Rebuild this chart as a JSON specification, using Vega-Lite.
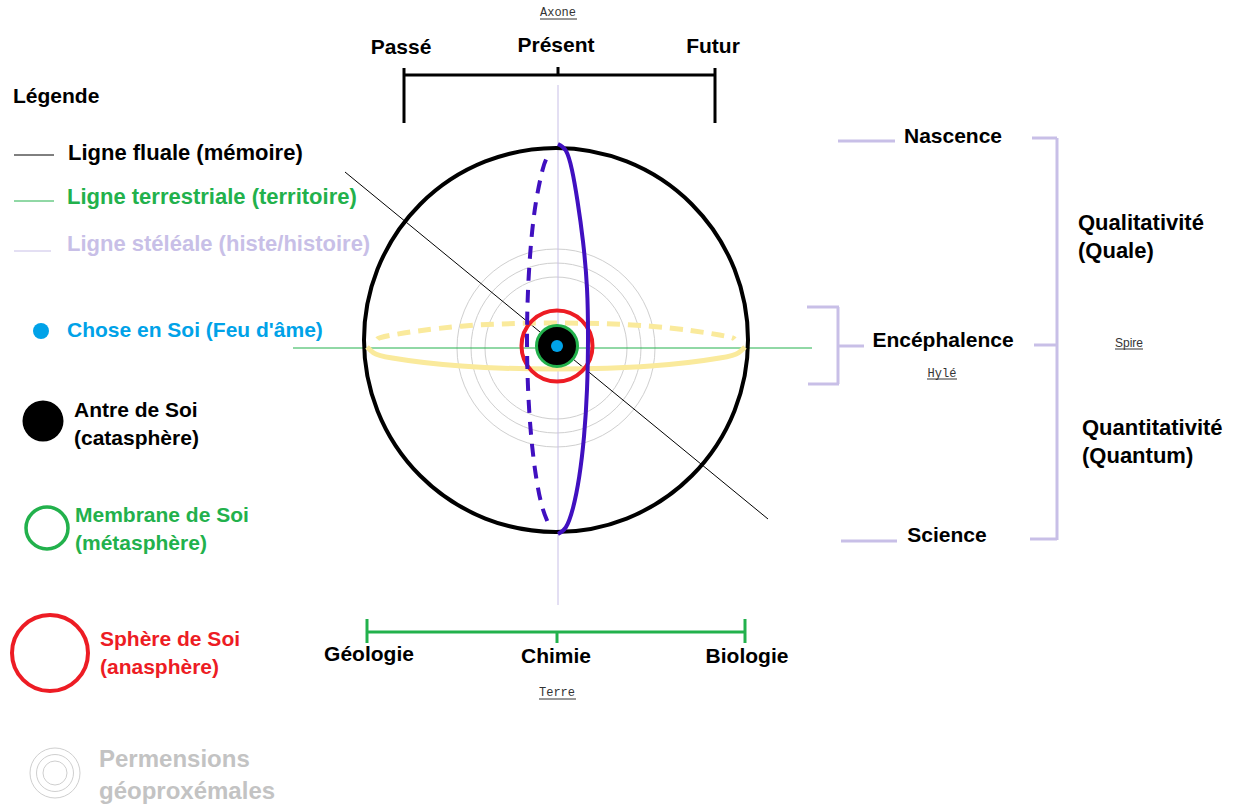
{
  "$schema": "https://vega.github.io/schema/vega-lite/v6.json",
  "width": 1236,
  "height": 807,
  "padding": 0,
  "autosize": {"type": "none"},
  "background": "white",
  "config": {"view": {"stroke": null}},
  "datasets": {
    "segs": [
      {"kind": "black3", "x": 404, "y": 75, "x2": 715, "y2": 75},
      {"kind": "black3", "x": 404, "y": 68, "x2": 404, "y2": 123},
      {"kind": "black3", "x": 715, "y": 68, "x2": 715, "y2": 123},
      {"kind": "black3", "x": 558, "y": 67, "x2": 558, "y2": 75},
      {"kind": "green3", "x": 367, "y": 632, "x2": 745, "y2": 632},
      {"kind": "green3", "x": 367, "y": 619, "x2": 367, "y2": 643},
      {"kind": "green3", "x": 745, "y": 619, "x2": 745, "y2": 643},
      {"kind": "green3", "x": 557, "y": 632, "x2": 557, "y2": 643},
      {"kind": "lav3", "x": 838, "y": 141, "x2": 895, "y2": 141},
      {"kind": "lav3", "x": 841, "y": 541, "x2": 897, "y2": 541},
      {"kind": "lav3", "x": 1032, "y": 138, "x2": 1057, "y2": 138},
      {"kind": "lav3", "x": 1057, "y": 138, "x2": 1057, "y2": 540},
      {"kind": "lav3", "x": 1030, "y": 539, "x2": 1057, "y2": 539},
      {"kind": "lav3", "x": 1034, "y": 345, "x2": 1057, "y2": 345},
      {"kind": "lav3", "x": 807, "y": 307, "x2": 839, "y2": 307},
      {"kind": "lav3", "x": 838, "y": 307, "x2": 838, "y2": 384},
      {"kind": "lav3", "x": 808, "y": 384, "x2": 839, "y2": 384},
      {"kind": "lav3", "x": 838, "y": 346, "x2": 864, "y2": 346},
      {"kind": "lav1", "x": 558, "y": 85, "x2": 558, "y2": 605},
      {"kind": "lav1", "x": 14, "y": 251, "x2": 51, "y2": 251},
      {"kind": "green1", "x": 293, "y": 348, "x2": 812, "y2": 348},
      {"kind": "green1", "x": 14, "y": 201, "x2": 54, "y2": 201},
      {"kind": "black1", "x": 345, "y": 172, "x2": 768, "y2": 519},
      {"kind": "black1", "x": 14, "y": 155, "x2": 54, "y2": 155},
      {"kind": "under", "x": 540, "y": 19, "x2": 577, "y2": 19},
      {"kind": "under", "x": 927, "y": 379, "x2": 957, "y2": 379},
      {"kind": "under", "x": 539, "y": 699, "x2": 576, "y2": 699},
      {"kind": "under", "x": 1115, "y": 349, "x2": 1143, "y2": 349}
    ],
    "curves": [
      {"curve": "purpleSolid", "i": 0, "x": 558, "y": 144},
      {"curve": "purpleSolid", "i": 1, "x": 565.8, "y": 150.6},
      {"curve": "purpleSolid", "i": 2, "x": 572, "y": 170.1},
      {"curve": "purpleSolid", "i": 3, "x": 577.5, "y": 201.1},
      {"curve": "purpleSolid", "i": 4, "x": 583, "y": 241.5},
      {"curve": "purpleSolid", "i": 5, "x": 587, "y": 288.5},
      {"curve": "purpleSolid", "i": 6, "x": 588, "y": 339},
      {"curve": "purpleSolid", "i": 7, "x": 587, "y": 389.5},
      {"curve": "purpleSolid", "i": 8, "x": 584, "y": 436.5},
      {"curve": "purpleSolid", "i": 9, "x": 579.2, "y": 476.9},
      {"curve": "purpleSolid", "i": 10, "x": 573, "y": 507.9},
      {"curve": "purpleSolid", "i": 11, "x": 565.8, "y": 527.4},
      {"curve": "purpleSolid", "i": 12, "x": 558, "y": 534},
      {"curve": "purpleDash", "i": 0, "x": 546, "y": 159.5},
      {"curve": "purpleDash", "i": 1, "x": 542.5, "y": 170.1},
      {"curve": "purpleDash", "i": 2, "x": 536.1, "y": 201.1},
      {"curve": "purpleDash", "i": 3, "x": 531.2, "y": 241.5},
      {"curve": "purpleDash", "i": 4, "x": 528.1, "y": 288.5},
      {"curve": "purpleDash", "i": 5, "x": 527, "y": 339},
      {"curve": "purpleDash", "i": 6, "x": 528.1, "y": 389.5},
      {"curve": "purpleDash", "i": 7, "x": 531.2, "y": 436.5},
      {"curve": "purpleDash", "i": 8, "x": 536.1, "y": 476.9},
      {"curve": "purpleDash", "i": 9, "x": 542.5, "y": 507.9},
      {"curve": "purpleDash", "i": 10, "x": 550, "y": 527},
      {"curve": "yellowSolid", "i": 0, "x": 367, "y": 347},
      {"curve": "yellowSolid", "i": 1, "x": 373.4, "y": 352.7},
      {"curve": "yellowSolid", "i": 2, "x": 392.3, "y": 358},
      {"curve": "yellowSolid", "i": 3, "x": 461.5, "y": 366.1},
      {"curve": "yellowSolid", "i": 4, "x": 556, "y": 369},
      {"curve": "yellowSolid", "i": 5, "x": 650.5, "y": 366.1},
      {"curve": "yellowSolid", "i": 6, "x": 719.7, "y": 358},
      {"curve": "yellowSolid", "i": 7, "x": 738.6, "y": 352.7},
      {"curve": "yellowSolid", "i": 8, "x": 745, "y": 347},
      {"curve": "yellowDash", "i": 0, "x": 377.3, "y": 339.2},
      {"curve": "yellowDash", "i": 1, "x": 392.3, "y": 335},
      {"curve": "yellowDash", "i": 2, "x": 461.5, "y": 326.2},
      {"curve": "yellowDash", "i": 3, "x": 556, "y": 323},
      {"curve": "yellowDash", "i": 4, "x": 650.5, "y": 326.2},
      {"curve": "yellowDash", "i": 5, "x": 719.7, "y": 335},
      {"curve": "yellowDash", "i": 6, "x": 734.7, "y": 339.2}
    ],
    "dots": [
      {"name": "sphere", "x": 556, "y": 340},
      {"name": "perm1", "x": 556, "y": 348},
      {"name": "perm2", "x": 556, "y": 348},
      {"name": "perm3", "x": 556, "y": 348},
      {"name": "centre", "x": 557, "y": 346},
      {"name": "lchose", "x": 41, "y": 331},
      {"name": "lcata", "x": 43, "y": 421},
      {"name": "lmeta", "x": 47, "y": 528},
      {"name": "lana", "x": 50, "y": 653},
      {"name": "lperm", "x": 55, "y": 773}
    ],
    "labels": [
      {"label": "Passé", "x": 401, "y": 48, "grp": "black", "pos": "c", "font": "b", "block": "main"},
      {"label": "Présent", "x": 556, "y": 46, "grp": "black", "pos": "c", "font": "b", "block": "main"},
      {"label": "Futur", "x": 713, "y": 47, "grp": "black", "pos": "c", "font": "b", "block": "main"},
      {"label": "Nascence", "x": 953, "y": 137, "grp": "black", "pos": "c", "font": "b", "block": "main"},
      {"label": "Encéphalence", "x": 943, "y": 341, "grp": "black", "pos": "c", "font": "b", "block": "main"},
      {"label": "Science", "x": 947, "y": 536, "grp": "black", "pos": "c", "font": "b", "block": "main"},
      {"label": "Géologie", "x": 369, "y": 655, "grp": "black", "pos": "c", "font": "b", "block": "main"},
      {"label": "Chimie", "x": 556, "y": 657, "grp": "black", "pos": "c", "font": "b", "block": "main"},
      {"label": "Biologie", "x": 747, "y": 657, "grp": "black", "pos": "c", "font": "b", "block": "main"},
      {"label": "Légende", "x": 13, "y": 97, "grp": "black", "pos": "l", "font": "b", "block": "main"},
      {"label": "Ligne fluale (mémoire)", "x": 68, "y": 153, "grp": "black", "pos": "l", "font": "b", "block": "wide"},
      {"label": "Ligne terrestriale (territoire)", "x": 67, "y": 197, "grp": "green", "pos": "l", "font": "b", "block": "wide"},
      {"label": "Ligne stéléale (histe/histoire)", "x": 67, "y": 244, "grp": "lav", "pos": "l", "font": "b", "block": "wide"},
      {"label": "Chose en Soi (Feu d'âme)", "x": 67, "y": 331, "grp": "blue", "pos": "l", "font": "b", "block": "main"},
      {"label": "Antre de Soi", "x": 74, "y": 411, "grp": "black", "pos": "l", "font": "b", "block": "main"},
      {"label": "(catasphère)", "x": 74, "y": 439, "grp": "black", "pos": "l", "font": "b", "block": "main"},
      {"label": "Membrane de Soi", "x": 75, "y": 516, "grp": "green", "pos": "l", "font": "b", "block": "main"},
      {"label": "(métasphère)", "x": 75, "y": 544, "grp": "green", "pos": "l", "font": "b", "block": "main"},
      {"label": "Sphère de Soi", "x": 100, "y": 640, "grp": "red", "pos": "l", "font": "b", "block": "main"},
      {"label": "(anasphère)", "x": 100, "y": 668, "grp": "red", "pos": "l", "font": "b", "block": "main"},
      {"label": "Permensions", "x": 99, "y": 760, "grp": "gray", "pos": "l", "font": "b", "block": "perm"},
      {"label": "géoproxémales", "x": 99, "y": 792, "grp": "gray", "pos": "l", "font": "b", "block": "perm"},
      {"label": "Qualitativité", "x": 1078, "y": 223, "grp": "black", "pos": "l", "font": "b", "block": "wide"},
      {"label": "(Quale)", "x": 1078, "y": 251, "grp": "black", "pos": "l", "font": "b", "block": "wide"},
      {"label": "Quantitativité", "x": 1082, "y": 428, "grp": "black", "pos": "l", "font": "b", "block": "wide"},
      {"label": "(Quantum)", "x": 1082, "y": 456, "grp": "black", "pos": "l", "font": "b", "block": "wide"},
      {"label": "Axone", "x": 558, "y": 12, "grp": "dark", "pos": "c", "font": "m", "block": "small"},
      {"label": "Hylé", "x": 942, "y": 373, "grp": "dark", "pos": "c", "font": "m", "block": "small"},
      {"label": "Terre", "x": 557, "y": 692, "grp": "dark", "pos": "c", "font": "m", "block": "small"},
      {"label": "Spire", "x": 1129, "y": 343, "grp": "dark", "pos": "c", "font": "s", "block": "small"}
    ]
  },
  "layer": [
    {
      "data": {"name": "dots"},
      "transform": [{"filter": "datum.name == 'perm1'"}],
      "mark": {"type": "point", "shape": "circle", "filled": false, "size": 39204, "strokeWidth": 1, "color": "#CFCFCF", "opacity": 1},
      "encoding": {
        "x": {"field": "x", "type": "quantitative", "scale": {"domain": [0, 1236], "nice": false, "zero": false}, "axis": null},
        "y": {"field": "y", "type": "quantitative", "scale": {"domain": [0, 807], "reverse": true, "nice": false, "zero": false}, "axis": null}
      }
    },
    {
      "data": {"name": "dots"},
      "transform": [{"filter": "datum.name == 'perm2'"}],
      "mark": {"type": "point", "shape": "circle", "filled": false, "size": 28900, "strokeWidth": 1, "color": "#CFCFCF", "opacity": 1},
      "encoding": {"x": {"field": "x", "type": "quantitative", "axis": null}, "y": {"field": "y", "type": "quantitative", "axis": null}}
    },
    {
      "data": {"name": "dots"},
      "transform": [{"filter": "datum.name == 'perm3'"}],
      "mark": {"type": "point", "shape": "circle", "filled": false, "size": 20164, "strokeWidth": 1, "color": "#CFCFCF", "opacity": 1},
      "encoding": {"x": {"field": "x", "type": "quantitative", "axis": null}, "y": {"field": "y", "type": "quantitative", "axis": null}}
    },
    {
      "data": {"name": "dots"},
      "transform": [{"filter": "datum.name == 'lperm'"}],
      "mark": {"type": "point", "shape": "circle", "filled": false, "size": 2500, "strokeWidth": 1, "color": "#CFCFCF", "opacity": 1},
      "encoding": {"x": {"field": "x", "type": "quantitative", "axis": null}, "y": {"field": "y", "type": "quantitative", "axis": null}}
    },
    {
      "data": {"name": "dots"},
      "transform": [{"filter": "datum.name == 'lperm'"}],
      "mark": {"type": "point", "shape": "circle", "filled": false, "size": 1369, "strokeWidth": 1, "color": "#CFCFCF", "opacity": 1},
      "encoding": {"x": {"field": "x", "type": "quantitative", "axis": null}, "y": {"field": "y", "type": "quantitative", "axis": null}}
    },
    {
      "data": {"name": "dots"},
      "transform": [{"filter": "datum.name == 'lperm'"}],
      "mark": {"type": "point", "shape": "circle", "filled": false, "size": 576, "strokeWidth": 1, "color": "#CFCFCF", "opacity": 1},
      "encoding": {"x": {"field": "x", "type": "quantitative", "axis": null}, "y": {"field": "y", "type": "quantitative", "axis": null}}
    },
    {
      "data": {"name": "segs"},
      "transform": [{"filter": "datum.kind == 'lav1'"}],
      "mark": {"type": "rule", "strokeWidth": 1, "color": "#C8BFE7"},
      "encoding": {"x": {"field": "x", "type": "quantitative", "axis": null}, "y": {"field": "y", "type": "quantitative", "axis": null}, "x2": {"field": "x2"}, "y2": {"field": "y2"}}
    },
    {
      "data": {"name": "segs"},
      "transform": [{"filter": "datum.kind == 'green1'"}],
      "mark": {"type": "rule", "strokeWidth": 1, "color": "#22B14C"},
      "encoding": {"x": {"field": "x", "type": "quantitative", "axis": null}, "y": {"field": "y", "type": "quantitative", "axis": null}, "x2": {"field": "x2"}, "y2": {"field": "y2"}}
    },
    {
      "data": {"name": "segs"},
      "transform": [{"filter": "datum.kind == 'black1'"}],
      "mark": {"type": "rule", "strokeWidth": 1, "color": "#000000"},
      "encoding": {"x": {"field": "x", "type": "quantitative", "axis": null}, "y": {"field": "y", "type": "quantitative", "axis": null}, "x2": {"field": "x2"}, "y2": {"field": "y2"}}
    },
    {
      "data": {"name": "segs"},
      "transform": [{"filter": "datum.kind == 'black3'"}],
      "mark": {"type": "rule", "strokeWidth": 3, "color": "#000000"},
      "encoding": {"x": {"field": "x", "type": "quantitative", "axis": null}, "y": {"field": "y", "type": "quantitative", "axis": null}, "x2": {"field": "x2"}, "y2": {"field": "y2"}}
    },
    {
      "data": {"name": "segs"},
      "transform": [{"filter": "datum.kind == 'green3'"}],
      "mark": {"type": "rule", "strokeWidth": 3, "color": "#22B14C"},
      "encoding": {"x": {"field": "x", "type": "quantitative", "axis": null}, "y": {"field": "y", "type": "quantitative", "axis": null}, "x2": {"field": "x2"}, "y2": {"field": "y2"}}
    },
    {
      "data": {"name": "segs"},
      "transform": [{"filter": "datum.kind == 'lav3'"}],
      "mark": {"type": "rule", "strokeWidth": 3, "color": "#C8BFE7"},
      "encoding": {"x": {"field": "x", "type": "quantitative", "axis": null}, "y": {"field": "y", "type": "quantitative", "axis": null}, "x2": {"field": "x2"}, "y2": {"field": "y2"}}
    },
    {
      "data": {"name": "segs"},
      "transform": [{"filter": "datum.kind == 'under'"}],
      "mark": {"type": "rule", "strokeWidth": 1, "color": "#333333"},
      "encoding": {"x": {"field": "x", "type": "quantitative", "axis": null}, "y": {"field": "y", "type": "quantitative", "axis": null}, "x2": {"field": "x2"}, "y2": {"field": "y2"}}
    },
    {
      "data": {"name": "dots"},
      "transform": [{"filter": "datum.name == 'sphere'"}],
      "mark": {"type": "point", "shape": "circle", "filled": false, "size": 147456, "strokeWidth": 4, "color": "#000000", "opacity": 1},
      "encoding": {"x": {"field": "x", "type": "quantitative", "axis": null}, "y": {"field": "y", "type": "quantitative", "axis": null}}
    },
    {
      "data": {"name": "curves"},
      "transform": [{"filter": "datum.curve == 'yellowSolid'"}],
      "mark": {"type": "line", "interpolate": "natural", "strokeWidth": 5, "color": "#FAEA9C"},
      "encoding": {"x": {"field": "x", "type": "quantitative", "axis": null}, "y": {"field": "y", "type": "quantitative", "axis": null}, "order": {"field": "i", "type": "quantitative"}}
    },
    {
      "data": {"name": "curves"},
      "transform": [{"filter": "datum.curve == 'yellowDash'"}],
      "mark": {"type": "line", "interpolate": "natural", "strokeWidth": 5, "strokeDash": [13, 8], "color": "#FAEA9C"},
      "encoding": {"x": {"field": "x", "type": "quantitative", "axis": null}, "y": {"field": "y", "type": "quantitative", "axis": null}, "order": {"field": "i", "type": "quantitative"}}
    },
    {
      "data": {"name": "dots"},
      "transform": [{"filter": "datum.name == 'centre'"}],
      "mark": {"type": "point", "shape": "circle", "filled": false, "size": 5041, "strokeWidth": 4, "color": "#ED1C24", "opacity": 1},
      "encoding": {"x": {"field": "x", "type": "quantitative", "axis": null}, "y": {"field": "y", "type": "quantitative", "axis": null}}
    },
    {
      "data": {"name": "curves"},
      "transform": [{"filter": "datum.curve == 'purpleSolid'"}],
      "mark": {"type": "line", "interpolate": "natural", "strokeWidth": 4, "color": "#4010C0"},
      "encoding": {"x": {"field": "x", "type": "quantitative", "axis": null}, "y": {"field": "y", "type": "quantitative", "axis": null}, "order": {"field": "i", "type": "quantitative"}}
    },
    {
      "data": {"name": "curves"},
      "transform": [{"filter": "datum.curve == 'purpleDash'"}],
      "mark": {"type": "line", "interpolate": "natural", "strokeWidth": 4, "strokeDash": [13, 9], "color": "#4010C0"},
      "encoding": {"x": {"field": "x", "type": "quantitative", "axis": null}, "y": {"field": "y", "type": "quantitative", "axis": null}, "order": {"field": "i", "type": "quantitative"}}
    },
    {
      "data": {"name": "dots"},
      "transform": [{"filter": "datum.name == 'centre'"}],
      "mark": {"type": "point", "shape": "circle", "filled": true, "size": 1600, "strokeWidth": 0, "color": "#000000", "opacity": 1},
      "encoding": {"x": {"field": "x", "type": "quantitative", "axis": null}, "y": {"field": "y", "type": "quantitative", "axis": null}}
    },
    {
      "data": {"name": "dots"},
      "transform": [{"filter": "datum.name == 'centre'"}],
      "mark": {"type": "point", "shape": "circle", "filled": false, "size": 1681, "strokeWidth": 3, "color": "#22B14C", "opacity": 1},
      "encoding": {"x": {"field": "x", "type": "quantitative", "axis": null}, "y": {"field": "y", "type": "quantitative", "axis": null}}
    },
    {
      "data": {"name": "dots"},
      "transform": [{"filter": "datum.name == 'centre'"}],
      "mark": {"type": "point", "shape": "circle", "filled": true, "size": 144, "strokeWidth": 0, "color": "#00A2E8", "opacity": 1},
      "encoding": {"x": {"field": "x", "type": "quantitative", "axis": null}, "y": {"field": "y", "type": "quantitative", "axis": null}}
    },
    {
      "data": {"name": "dots"},
      "transform": [{"filter": "datum.name == 'lchose'"}],
      "mark": {"type": "point", "shape": "circle", "filled": true, "size": 256, "strokeWidth": 0, "color": "#00A2E8", "opacity": 1},
      "encoding": {"x": {"field": "x", "type": "quantitative", "axis": null}, "y": {"field": "y", "type": "quantitative", "axis": null}}
    },
    {
      "data": {"name": "dots"},
      "transform": [{"filter": "datum.name == 'lcata'"}],
      "mark": {"type": "point", "shape": "circle", "filled": true, "size": 1681, "strokeWidth": 0, "color": "#000000", "opacity": 1},
      "encoding": {"x": {"field": "x", "type": "quantitative", "axis": null}, "y": {"field": "y", "type": "quantitative", "axis": null}}
    },
    {
      "data": {"name": "dots"},
      "transform": [{"filter": "datum.name == 'lmeta'"}],
      "mark": {"type": "point", "shape": "circle", "filled": false, "size": 1764, "strokeWidth": 3.5, "color": "#22B14C", "opacity": 1},
      "encoding": {"x": {"field": "x", "type": "quantitative", "axis": null}, "y": {"field": "y", "type": "quantitative", "axis": null}}
    },
    {
      "data": {"name": "dots"},
      "transform": [{"filter": "datum.name == 'lana'"}],
      "mark": {"type": "point", "shape": "circle", "filled": false, "size": 5776, "strokeWidth": 4, "color": "#ED1C24", "opacity": 1},
      "encoding": {"x": {"field": "x", "type": "quantitative", "axis": null}, "y": {"field": "y", "type": "quantitative", "axis": null}}
    },
    {
      "data": {"name": "labels"},
      "transform": [{"filter": "datum.font == 'b' && datum.pos == 'c'"}],
      "mark": {"type": "text", "font": "Liberation Sans", "fontWeight": "bold", "fontSize": 21, "align": "center", "baseline": "middle"},
      "encoding": {
        "x": {"field": "x", "type": "quantitative", "axis": null},
        "y": {"field": "y", "type": "quantitative", "axis": null},
        "text": {"field": "label"},
        "color": {"field": "grp", "type": "nominal", "legend": null, "scale": {"domain": ["black", "green", "lav", "blue", "red", "gray", "dark"], "range": ["#000000", "#22B14C", "#C8BFE7", "#00A2E8", "#ED1C24", "#C3C3C3", "#333333"]}}
      }
    },
    {
      "data": {"name": "labels"},
      "transform": [{"filter": "datum.font == 'b' && datum.pos == 'l' && datum.block == 'main'"}],
      "mark": {"type": "text", "font": "Liberation Sans", "fontWeight": "bold", "fontSize": 21, "align": "left", "baseline": "middle"},
      "encoding": {
        "x": {"field": "x", "type": "quantitative", "axis": null},
        "y": {"field": "y", "type": "quantitative", "axis": null},
        "text": {"field": "label"},
        "color": {"field": "grp", "type": "nominal", "legend": null}
      }
    },
    {
      "data": {"name": "labels"},
      "transform": [{"filter": "datum.font == 'b' && datum.pos == 'l' && datum.block == 'wide'"}],
      "mark": {"type": "text", "font": "Liberation Sans", "fontWeight": "bold", "fontSize": 22, "align": "left", "baseline": "middle"},
      "encoding": {
        "x": {"field": "x", "type": "quantitative", "axis": null},
        "y": {"field": "y", "type": "quantitative", "axis": null},
        "text": {"field": "label"},
        "color": {"field": "grp", "type": "nominal", "legend": null}
      }
    },
    {
      "data": {"name": "labels"},
      "transform": [{"filter": "datum.font == 'b' && datum.pos == 'l' && datum.block == 'perm'"}],
      "mark": {"type": "text", "font": "Liberation Sans", "fontWeight": "bold", "fontSize": 24, "align": "left", "baseline": "middle"},
      "encoding": {
        "x": {"field": "x", "type": "quantitative", "axis": null},
        "y": {"field": "y", "type": "quantitative", "axis": null},
        "text": {"field": "label"},
        "color": {"field": "grp", "type": "nominal", "legend": null}
      }
    },
    {
      "data": {"name": "labels"},
      "transform": [{"filter": "datum.font == 'm'"}],
      "mark": {"type": "text", "font": "Liberation Mono", "fontSize": 12, "align": "center", "baseline": "middle"},
      "encoding": {
        "x": {"field": "x", "type": "quantitative", "axis": null},
        "y": {"field": "y", "type": "quantitative", "axis": null},
        "text": {"field": "label"},
        "color": {"field": "grp", "type": "nominal", "legend": null}
      }
    },
    {
      "data": {"name": "labels"},
      "transform": [{"filter": "datum.font == 's'"}],
      "mark": {"type": "text", "font": "Liberation Sans", "fontSize": 12, "align": "center", "baseline": "middle"},
      "encoding": {
        "x": {"field": "x", "type": "quantitative", "axis": null},
        "y": {"field": "y", "type": "quantitative", "axis": null},
        "text": {"field": "label"},
        "color": {"field": "grp", "type": "nominal", "legend": null}
      }
    }
  ]
}
